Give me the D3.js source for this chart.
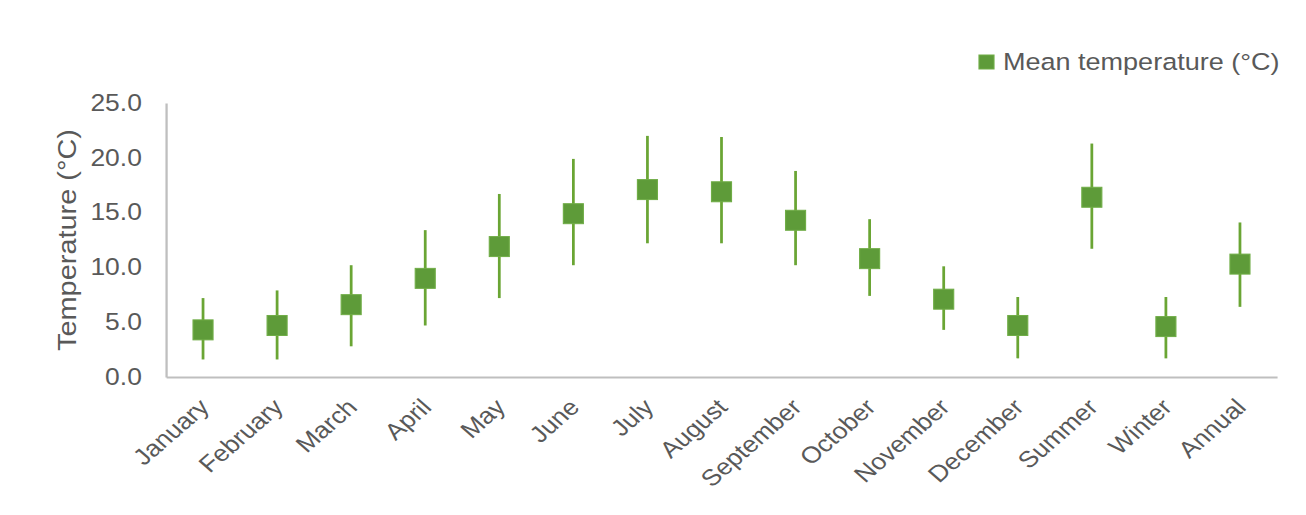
<!DOCTYPE html>
<html>
<head>
<meta charset="utf-8">
<script src="https://cdn.jsdelivr.net/npm/d3@7"></script>
<style>
  html, body { margin: 0; padding: 0; background: #ffffff; }
  svg { display: block; }
  text { font-family: "Liberation Sans", Arial, sans-serif; fill: #595959; }
</style>
</head>
<body>
<svg id="chart" width="1306" height="515"></svg>
<script>
// ---- Data ----
const categories = ["January","February","March","April","May","June","July","August",
                    "September","October","November","December","Summer","Winter","Annual"];
const meanTemp  = [4.3, 4.7, 6.6, 9.0, 11.9, 14.9, 17.1, 16.9, 14.3, 10.8, 7.1, 4.7, 16.4, 4.6, 10.3];
const upperTemp = [7.2, 7.9, 10.2, 13.4, 16.7, 19.9, 22.0, 21.9, 18.8, 14.4, 10.1, 7.3, 21.3, 7.3, 14.1];
const lowerTemp = [1.6, 1.6, 2.8, 4.7, 7.2, 10.2, 12.2, 12.2, 10.2, 7.4, 4.3, 1.7, 11.7, 1.7, 6.4];
const yTicks = [0, 5, 10, 15, 20, 25];
const seriesName = "Mean temperature (\u00B0C)";
const yTitle = "Temperature (\u00B0C)";

// ---- Layout ----
const W = 1306, H = 515;
const sx = 1.15;                 // reference is horizontally stretched
const plotLeft = 166 / sx, plotRight = 1277 / sx;
const plotTop = 103, plotBottom = 377;

const svg = d3.select("#chart");
svg.append("rect").attr("width", W).attr("height", H).attr("fill", "#ffffff");
const g = svg.append("g").attr("transform", `scale(${sx},1)`);

const x = d3.scaleBand().domain(categories).range([plotLeft, plotRight]);
const y = d3.scaleLinear().domain([0, 25]).range([plotBottom, plotTop]);
const cx = c => x(c) + x.bandwidth() / 2;

// Y axis
const yAxis = g.append("g")
  .attr("transform", `translate(${plotLeft},0)`)
  .call(d3.axisLeft(y).tickValues(yTicks).tickFormat(d3.format(".1f")).tickSize(0).tickPadding(21));
yAxis.select(".domain").attr("stroke", "#bfbfbf").attr("stroke-width", 2);
yAxis.selectAll("text").attr("font-size", 23).attr("fill", "#595959")
  .attr("font-family", "Liberation Sans, Arial, sans-serif");

// X axis
const xAxis = g.append("g")
  .attr("transform", `translate(0,${plotBottom})`)
  .call(d3.axisBottom(x).tickSize(0).tickSizeOuter(0));
xAxis.select(".domain").attr("stroke", "#bfbfbf").attr("stroke-width", 2);
xAxis.selectAll("text")
  .attr("font-size", 23).attr("fill", "#595959")
  .attr("font-family", "Liberation Sans, Arial, sans-serif")
  .attr("text-anchor", "end")
  .attr("x", null).attr("y", null).attr("dy", "0.35em")
  .attr("transform", `translate(${1 / sx},26) rotate(-45)`);

// Y title
g.append("text")
  .attr("transform", `translate(${76 / sx},${240}) rotate(-90)`)
  .attr("text-anchor", "middle")
  .attr("font-size", 23)
  .attr("textLength", 222)
  .attr("lengthAdjust", "spacingAndGlyphs")
  .text(yTitle);

// Data records
const data = categories.map((c, i) => ({ c, mean: meanTemp[i], hi: upperTemp[i], lo: lowerTemp[i] }));

// Error bars
g.selectAll("line.err").data(data).join("line")
  .attr("class", "err")
  .attr("x1", d => cx(d.c)).attr("x2", d => cx(d.c))
  .attr("y1", d => y(d.lo)).attr("y2", d => y(d.hi))
  .attr("stroke", "#6aa534").attr("stroke-width", 2.4);

// Markers
const mw = 20 / sx, mh = 20;
g.selectAll("rect.pt").data(data).join("rect")
  .attr("class", "pt")
  .attr("x", d => cx(d.c) - mw / 2).attr("y", d => y(d.mean) - mh / 2)
  .attr("width", mw).attr("height", mh)
  .attr("fill", "#5e9b39").attr("stroke", "#70ad47").attr("stroke-width", 1);

// Legend
const lg = g.append("g");
lg.append("rect").attr("x", 979 / sx).attr("y", 55).attr("width", 15 / sx).attr("height", 14)
  .attr("fill", "#5e9b39").attr("stroke", "#70ad47").attr("stroke-width", 1);
lg.append("text").attr("x", 1003 / sx).attr("y", 70).attr("font-size", 23.5).text(seriesName);
</script>
</body>
</html>
